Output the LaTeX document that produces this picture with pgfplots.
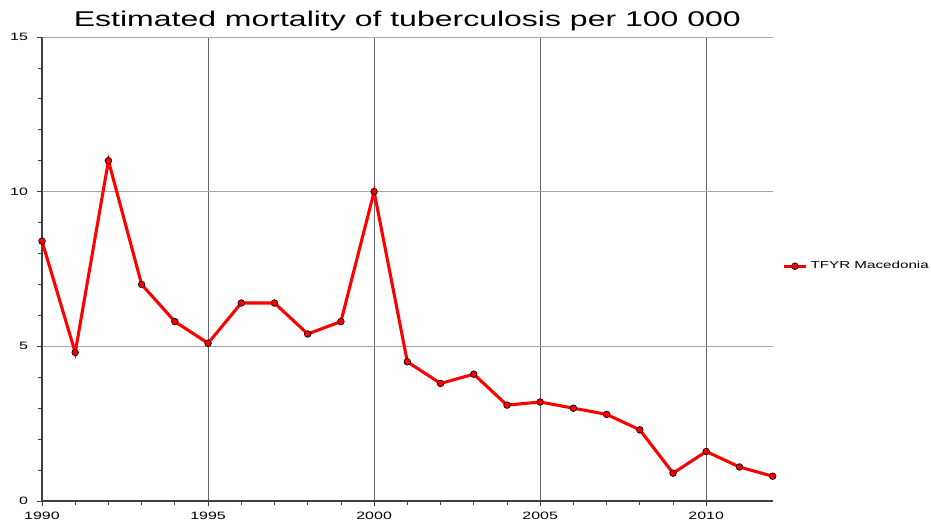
\documentclass[border=0pt]{standalone}
\usepackage{fontspec}
\setmainfont{Liberation Sans}[FakeStretch=1.5]
\usepackage{pgfplots}
\pgfplotsset{compat=1.18}
\begin{document}
\begin{tikzpicture}
\begin{axis}[
    scale only axis,
    width=548pt, height=348pt,
    xmin=1990, xmax=2012,
    ymin=0, ymax=15,
    xtick={1990,1995,2000,2005,2010},
    ytick={0,5,10,15},
    minor x tick num=4,
    minor y tick num=4,
    /pgf/number format/1000 sep={},
    /pgf/number format/assume math mode=true,
    axis lines*=left,
    x axis line style={-, black!75, line width=0.8pt},
    y axis line style={-, black!75, line width=1.6pt},
    tick align=outside,
    major tick length=4pt,
    minor tick length=3pt,
    tick style={black!75, line width=0.6pt},
    xmajorgrids, ymajorgrids,
    major x grid style={black!60, line width=0.5pt},
    major y grid style={black!35, line width=0.7pt},
    ticklabel style={font=\fontsize{8}{10}\selectfont},
    xticklabel style={yshift=-0.5pt},
    yticklabel style={xshift=-3pt},
    title={Estimated mortality of tuberculosis per 100 000},
    every axis title shift=0pt,
    title style={font=\fontsize{16}{18}\selectfont, at={(0.5,1)}, anchor=base, yshift=7.7pt},
    legend style={at={(1.007,0.506)}, anchor=west, draw=none, fill=none,
        font=\fontsize{7.6}{9}\selectfont},
    legend cell align=left,
]
\addplot[red, line width=2.3pt, mark=*, mark size=2.5pt,
    mark options={fill=red, draw=black, line width=0.5pt}]
table {
x    y
1990 8.4
1991 4.8
1992 11.0
1993 7.0
1994 5.8
1995 5.1
1996 6.4
1997 6.4
1998 5.4
1999 5.8
2000 10.0
2001 4.5
2002 3.8
2003 4.1
2004 3.1
2005 3.2
2006 3.0
2007 2.8
2008 2.3
2009 0.9
2010 1.6
2011 1.1
2012 0.8
};
\addlegendentry{TFYR Macedonia}
\end{axis}
\pgfresetboundingbox
\path (-31.5pt,-19.5pt) rectangle (666.75pt,375.75pt);
\end{tikzpicture}
\end{document}
